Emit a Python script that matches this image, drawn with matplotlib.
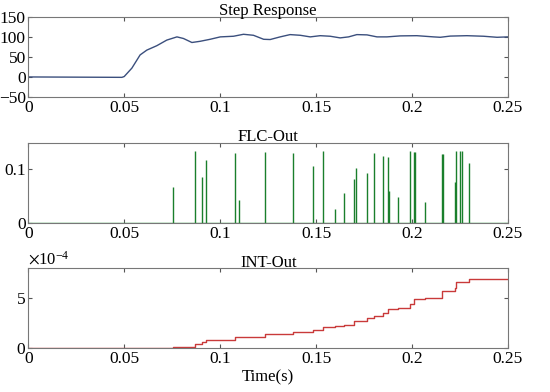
import numpy as np
import matplotlib.pyplot as plt
from matplotlib.ticker import ScalarFormatter

plt.rcParams['font.family'] = ['Liberation Serif', 'DejaVu Serif']
plt.rcParams['mathtext.fontset'] = 'stix'

# step response
step_t = [0, 0.0487, 0.0499, 0.0539, 0.0582, 0.0617, 0.0669, 0.0721, 0.0774, 0.0808,
          0.0852, 0.0895, 0.0947, 0.1, 0.1069, 0.1121, 0.1173, 0.1226, 0.126, 0.1312,
          0.1364, 0.1417, 0.1469, 0.1521, 0.1573, 0.1625, 0.1669, 0.1712, 0.1765, 0.1817,
          0.1869, 0.1939, 0.2025, 0.2112, 0.2147, 0.2199, 0.2286, 0.2373, 0.2443, 0.25]
step_y = [0, -1, 1, 22, 55, 67, 78, 92, 100, 96,
          86, 89, 94, 100, 101.6, 106.5, 104, 94, 93.4, 100,
          105.7, 104, 100, 103, 101.6, 97.5, 100, 105.7, 105, 100,
          100, 102.5, 103, 100, 99, 102, 103, 101.6, 99, 100]

# FLC output spikes
flc_t = [0.0756, 0.0869, 0.0904, 0.0927, 0.1078, 0.1095, 0.1231, 0.1379, 0.1483, 0.1535,
         0.1596, 0.1643, 0.1699, 0.1709, 0.1765, 0.1799, 0.1848, 0.1874, 0.1878, 0.1926,
         0.1987, 0.2008, 0.2013, 0.2065, 0.2156, 0.2161, 0.2222, 0.2230, 0.2251, 0.2258,
         0.2298]
flc_h = [0.067, 0.134, 0.086, 0.117, 0.131, 0.043, 0.132, 0.130, 0.107, 0.134,
         0.027, 0.057, 0.083, 0.103, 0.094, 0.131, 0.125, 0.123, 0.059, 0.049,
         0.134, 0.133, 0.133, 0.040, 0.128, 0.129, 0.077, 0.134, 0.134, 0.134,
         0.113]

# integrator output staircase (x1e-4)
int_t = [0, 0.0756, 0.0869, 0.0904, 0.0927, 0.1078, 0.1095, 0.1231, 0.1379, 0.1483,
         0.1535, 0.1596, 0.1643, 0.1699, 0.1765, 0.1799, 0.1848, 0.1874, 0.1926, 0.1987,
         0.2008, 0.2065, 0.2156, 0.2222, 0.2230, 0.2298, 0.25]
int_y = [0, 0.1, 0.4, 0.6, 0.8, 1.1, 1.15, 1.4, 1.6, 1.8,
         2.15, 2.25, 2.3, 2.75, 3.0, 3.2, 3.5, 3.9, 4.0, 4.45,
         4.95, 5.0, 5.75, 6.0, 6.6, 6.95, 6.95]

fig = plt.figure(figsize=(5.5, 3.92), dpi=100)
ax1 = fig.add_axes([0.0518, 0.7526, 0.8718, 0.2044])
ax2 = fig.add_axes([0.0518, 0.431, 0.8718, 0.205])
ax3 = fig.add_axes([0.0518, 0.1115, 0.8718, 0.2041])

xt = [0, 0.05, 0.1, 0.15, 0.2, 0.25]
xtl = ['0', '0.05', '0.1', '0.15', '0.2', '0.25']

ax1.plot(step_t, step_y, color='#3b4f7d', lw=1)
ax1.set_ylim(-50, 150)
ax1.set_yticks([-50, 0, 50, 100, 150])
ax1.set_title('Step Response', fontsize=12, pad=1)

ax2.plot([0, 0.25], [0, 0], color='#1f9a35', lw=1)
ax2.vlines(flc_t, 0, flc_h, color='#1a7f2c', lw=1.0)
ax2.set_ylim(0, 0.15)
ax2.set_yticks([0, 0.1])
ax2.set_yticklabels(['0', '0.1'])
ax2.set_title('FLC-Out', fontsize=12, pad=1)

ax3.step(int_t, np.array(int_y) * 1e-4, where='post', color='#c93a3a', lw=1)
ax3.set_ylim(0, 8e-4)
ax3.set_yticks([0, 5e-4])
fmt = ScalarFormatter(useMathText=True)
fmt.set_powerlimits((-3, 3))
ax3.yaxis.set_major_formatter(fmt)
ax3.yaxis.get_offset_text().set_fontsize(12)
ax3.set_title('INT-Out', fontsize=12, pad=1)
ax3.set_xlabel('Time(s)', fontsize=12, labelpad=2)

for ax in (ax1, ax2, ax3):
    ax.set_xlim(0, 0.25)
    ax.set_xticks(xt)
    ax.set_xticklabels(xtl)
    ax.tick_params(direction='in', top=True, right=True, labelsize=12.5,
                   length=3, color='#555555', pad=2)
    for s in ax.spines.values():
        s.set_color('#777777')
        s.set_linewidth(0.8)

fig.savefig('out.png', dpi=100)
